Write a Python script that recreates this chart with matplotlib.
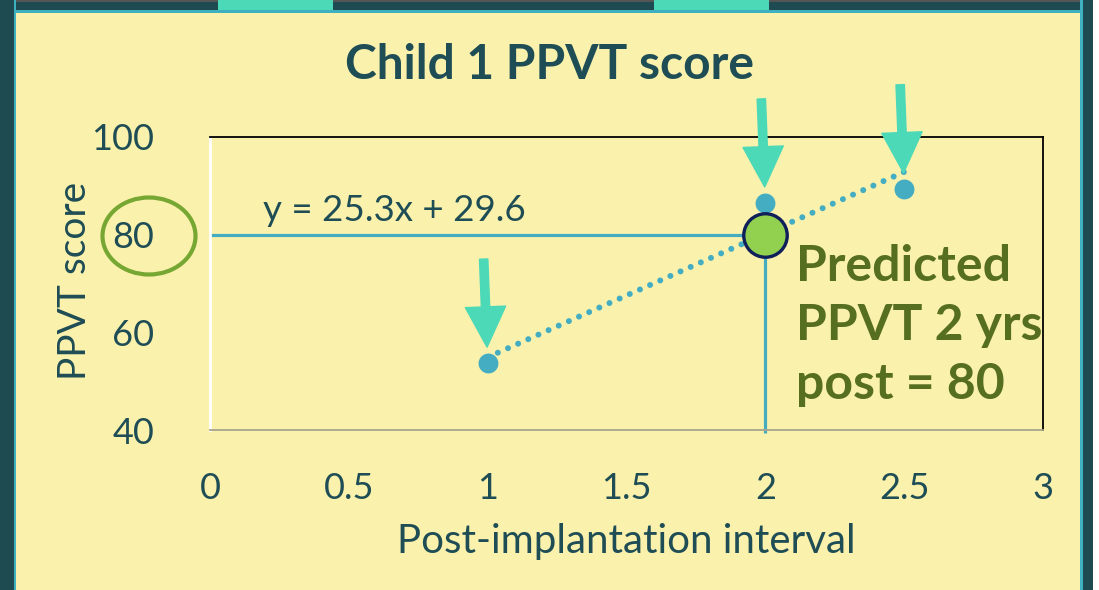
import matplotlib
matplotlib.use("Agg")
import matplotlib.pyplot as plt
from matplotlib.patches import Rectangle, Ellipse

# ---- data ----
x_interval = [1.0, 2.0, 2.5]
ppvt = [53.7, 86.5, 89.4]
slope = 25.3
intercept = 29.6
predict_x = 2.0
predict_y = 80
x_ticks = [0, 0.5, 1, 1.5, 2, 2.5, 3]
y_ticks = [40, 60, 80, 100]
title = "Child 1 PPVT score"
x_label = "Post-implantation interval"
y_label = "PPVT score"
eq_text = "y = 25.3x + 29.6"
pred_text = "Predicted\nPPVT 2 yrs\npost = 80"

# ---- colours ----
BG = "#FAF1AC"
DARK = "#1E4B52"
LTEAL = "#3FB0BF"
MINT = "#4CD9B8"
POINT = "#45ADC2"
TXT = "#1F4D55"
OLIVE = "#566E20"
GREEN = "#92D050"
NAVY = "#0F1F5A"
ELL = "#76A732"

FONT = "Lato"
plt.rcParams['font.family'] = [FONT, 'DejaVu Sans']

W, H = 1099, 590
fig = plt.figure(figsize=(W / 100, H / 100), dpi=100, facecolor=BG)

def px_rect(x0, y0, x1, y1, color, z=0):
    fig.patches.append(Rectangle((x0 / W, 1 - y1 / H), (x1 - x0) / W, (y1 - y0) / H,
                                 transform=fig.transFigure, facecolor=color,
                                 edgecolor='none', zorder=z))

# frame decoration
px_rect(0, 0, W, 10, DARK)
px_rect(0, 0, W, 1.5, "#555555")
px_rect(0, 0, 16, H, LTEAL)
px_rect(0, 0, 14, H, DARK)
px_rect(1080, 0, W, H, LTEAL)
px_rect(1083, 0, 1093, H, DARK)
px_rect(1093, 0, W, H, "#FFFFFF")
px_rect(14, 10, 1083, 13, LTEAL)
px_rect(218, 0, 333, 10, MINT)
px_rect(654, 0, 769, 10, MINT)

ax = fig.add_axes([210 / W, 1 - 430 / H, 833 / W, 293 / H])
ax.set_facecolor('none')
ax.set_xlim(0, 3)
ax.set_ylim(40, 100)
ax.set_xticks(x_ticks)
ax.set_xticklabels([f"{t:g}" for t in x_ticks])
ax.set_yticks(y_ticks)
ax.set_yticklabels([str(t) for t in y_ticks])
ax.tick_params(length=0, labelsize=26, colors=TXT)
ax.tick_params(axis='x', pad=30)
ax.tick_params(axis='y', pad=40)

for s in ['top', 'right']:
    ax.spines[s].set_color('black')
    ax.spines[s].set_linewidth(1.3)
ax.spines['left'].set_color('white')
ax.spines['left'].set_linewidth(2)
ax.spines['bottom'].set_color('#A8A48C')
ax.spines['bottom'].set_linewidth(1.3)

ax.set_xlabel(x_label, fontsize=29, color=TXT)
ax.xaxis.set_label_coords(0.5, (430 - 541) / 293)
ax.xaxis.label.set_va('center')
ax.set_ylabel(y_label, fontsize=28, color=TXT)
ax.yaxis.set_label_coords((75 - 210) / 833, (430 - 281) / 293)
ax.yaxis.label.set_va('center')

fig.text(0.5, 1 - 79 / H, title, ha='center', va='baseline', fontsize=34.5,
         fontweight='bold', color=TXT)

# reference lines
ax.plot([0, predict_x], [predict_y, predict_y], color=POINT, lw=2.3, zorder=2, solid_capstyle='butt')
ax.plot([predict_x, predict_x], [predict_y, 39.4], color=POINT, lw=2.3, zorder=2,
        clip_on=False, solid_capstyle='butt')

# trend line
tx = [min(x_interval), max(x_interval)]
ty = [slope * v + intercept for v in tx]
ax.plot(tx, ty, color=POINT, lw=4.3, dashes=(0.01, 1.85), dash_capstyle='round', zorder=3)

# points
ax.scatter(x_interval, ppvt, s=205, color=POINT, zorder=4, linewidths=0)
ax.scatter([predict_x], [predict_y], s=980, color=GREEN, edgecolors=NAVY, linewidths=2.4, zorder=5)

# arrows
for xv, yv in zip(x_interval, ppvt):
    ax.annotate('', xy=(xv, yv), xycoords='data', xytext=(-4, 104), textcoords='offset pixels',
                arrowprops=dict(arrowstyle='simple,head_length=2.9,head_width=2.9,tail_width=0.6',
                                mutation_scale=10, color=MINT, shrinkA=0, shrinkB=11.5),
                annotation_clip=False, zorder=6)

# texts
ax.text((263 - 210) / 833, (430 - 221) / 293, eq_text, transform=ax.transAxes,
        fontsize=26.5, color=TXT, va='baseline', ha='left')
ax.text((796 - 210) / 833, (430 - 399) / 293, pred_text, transform=ax.transAxes,
        fontsize=36, fontweight='bold', color=OLIVE, va='baseline', ha='left', linespacing=1.38)

ax.add_patch(Ellipse(((149 - 210) / 833, (430 - 236) / 293), 93 / 833, 77 / 293,
                     transform=ax.transAxes, fill=False, edgecolor=ELL, lw=3, clip_on=False))

fig.savefig("out.png", dpi=100, facecolor=BG)
